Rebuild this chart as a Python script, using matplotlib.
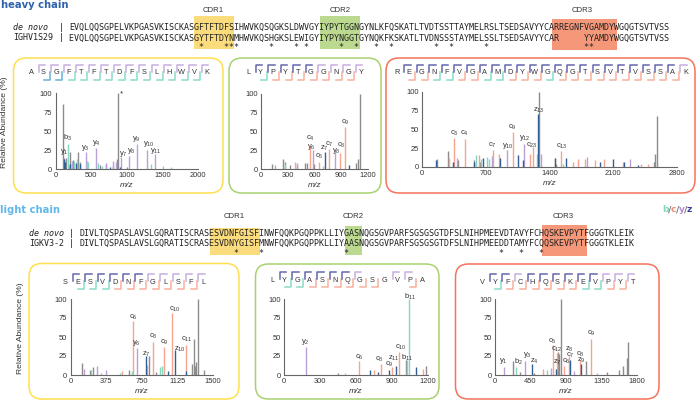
"""Antibody sequence alignment with annotated MS/MS spectra for each CDR."""
import matplotlib
matplotlib.use("Agg")
import matplotlib.pyplot as plt
from matplotlib.patches import FancyBboxPatch, Rectangle

plt.rcParams["font.family"] = ["Liberation Sans", "DejaVu Sans"]
plt.rcParams["mathtext.default"] = "regular"

W, H = 697, 401

# ---- sequences ----
HEAVY_NAMES = ["de novo", "IGHV1S29"]
HEAVY_DENOVO = "EVQLQQSGPELVKPGASVKISCKASGFTFTDFSIHWVKQSQGKSLDWVGYIYPYTGGNGYNLKFQSKATLTVDTSSTTAYMELRSLTSEDSAVYYCARREGNFVGAMDYWGQGTSVTVSS"
HEAVY_GERM = "EVQLQQSGPELVKPGASVKISCKASGYTFTDYNMHWVKQSHGKSLEWIGYIYPYNGGTGYNQKFKSKATLTVDNSSSTAYMELSSLTSEDSAVYYCAR     YYAMDYWGQGTSVTVSS"
LIGHT_NAMES = ["de novo", "IGKV3-2"]
LIGHT_DENOVO = "DIVLTQSPASLAVSLGQRATISCRASESVDNFGISFINWFQQKPGQPPKLLIYGASNQGSGVPARFSGSGSGTDFSLNIHPMEEVDTAVYFCHQSKEVPYTFGGGTKLEIK"
LIGHT_GERM = "DIVLTQSPASLAVSLGQRATISCRASESVDNYGISFMNWFQQKPGQPPKLLIYAASNQGSGVPARFSGSGSGTDFSLNIHPMEEDDTAMYFCQQSKEVPYTFGGGTKLEIK"

# ---- fragment maps: t = y light, d = y+z dark; b = b, c = c, s = blue, . = none ----
H1_RES = "ASGFTFTDFSLHWVK"
H1_TOP = ".tttttttttttttt"
H1_BOT = ".ssbbbbbbbbbbb."
H2_RES = "LYPYTGGNGY"
H2_TOP = ".dddddtttt"
H2_BOT = ".bccccccc."
H3_RES = "REGNFVGAMDYWGQGTSVTVSSAK"
H3_TOP = ".ddddddddddddddddddddddt"
H3_BOT = ".ccbbccbbcccbcccccccccc."
L1_RES = "SESVDNFGLSFL"
L1_TOP = ".ddddddttttt"
L1_BOT = ".bbbccccccc."
L2_RES = "LYGASNQGSGVPA"
L2_TOP = ".ddddddt..tt."
L2_BOT = ".bbcccccc..c."
L3_RES = "VYFCHQSKEVPYT"
L3_TOP = ".ddtddddddttt"
L3_BOT = ".bccccccbbcc."

# ---- spectra: m/z and relative intensity per ion type ----
H1_GRAY_MZ = [107, 150, 200, 240, 318, 340, 440, 620, 700, 800, 860, 873, 1000]
H1_GRAY_INT = [86, 14, 22, 12, 23, 9, 6, 5, 7, 4, 13, 100, 3]
H1_C_MZ = [180, 300]
H1_C_INT = [5, 4]
H1_Y_MZ = [120, 230, 420, 565, 700, 800, 850, 915, 1032, 1140, 1290, 1392]
H1_Y_INT = [15, 11, 22, 28, 8, 11, 9, 16, 17, 33, 25, 20]
H1_B_MZ = [178, 260, 300, 435, 460, 600, 650, 1340, 1515, 1620]
H1_B_INT = [33, 10, 13, 11, 9, 8, 4, 6, 4, 3]
H1_Z_MZ = [115, 130, 205, 290, 345, 760, 900]
H1_Z_INT = [13, 9, 7, 8, 6, 3, 3]

H2_GRAY_MZ = [120, 245, 270, 330, 400, 496, 520, 590, 1060, 1090, 1113]
H2_GRAY_INT = [7, 14, 10, 5, 5, 8, 8, 7, 8, 13, 100]
H2_C_MZ = [385, 553, 654, 767, 891, 944]
H2_C_INT = [9, 30, 10, 27, 22, 56]
H2_Y_MZ = [160, 400, 580, 827]
H2_Y_INT = [5, 8, 26, 23]
H2_B_MZ = [270, 700]
H2_B_INT = [7, 4]
H2_Z_MZ = [718, 985]
H2_Z_INT = [23, 6]

H3_GRAY_MZ = [165, 285, 400, 567, 640, 1285, 1470, 2545, 2562, 2580]
H3_GRAY_INT = [10, 21, 9, 9, 6, 100, 4, 7, 17, 68]
H3_C_MZ = [293, 355, 468, 622, 776, 849, 999, 1186, 1219, 1460, 1522, 1654, 1709, 1793, 1896, 1998, 2203, 2400, 2480]
H3_C_INT = [12, 39, 37, 16, 23, 17, 47, 17, 27, 12, 21, 7, 11, 10, 9, 10, 7, 4, 4]
H3_Y_MZ = [384, 769, 937, 1124, 1310, 1812, 2287]
H3_Y_INT = [12, 14, 22, 31, 17, 13, 10]
H3_B_MZ = [590, 650, 714, 740, 1262, 1550]
H3_B_INT = [16, 11, 13, 10, 17, 4]
H3_Z_MZ = [150, 340, 575, 670, 860, 1050, 1110, 1277, 1460, 1577, 1950, 2101, 2214, 2370]
H3_Z_INT = [9, 6, 7, 12, 12, 16, 9, 70, 12, 12, 6, 10, 7, 3]

L1_GRAY_MZ = [126, 200, 238, 616, 826, 900, 1281, 1295, 1310, 1323, 1340, 1410]
L1_GRAY_INT = [16, 6, 10, 7, 25, 4, 15, 47, 12, 17, 100, 6]
L1_C_MZ = [542, 658, 808, 871, 983, 1071, 1221]
L1_C_INT = [5, 71, 13, 44, 37, 81, 39]
L1_Y_MZ = [140, 283, 374, 696]
L1_Y_INT = [8, 12, 6, 35]
L1_B_MZ = [213, 320, 520, 650, 940, 962]
L1_B_INT = [6, 3, 3, 5, 10, 12]
L1_Z_MZ = [794, 1030, 1102, 1218]
L1_Z_INT = [25, 5, 33, 5]

L2_GRAY_MZ = [450, 1020, 1184]
L2_GRAY_INT = [2, 20, 12]
L2_C_MZ = [511, 622, 753, 811, 900, 956, 1159]
L2_C_INT = [3, 18, 7, 14, 10, 30, 8]
L2_Y_MZ = [186]
L2_Y_INT = [37]
L2_B_MZ = [1025, 1042]
L2_B_INT = [20, 100]
L2_Z_MZ = [714, 780, 878, 934, 1100]
L2_Z_INT = [6, 4, 7, 12, 10]

L3_GRAY_MZ = [232, 320, 500, 801, 813, 839, 1151, 1420, 1572, 1623, 1673, 1686]
L3_GRAY_INT = [18, 4, 3, 30, 28, 100, 18, 4, 7, 12, 23, 44]
L3_C_MZ = [603, 729, 788, 872, 940, 1083, 1214]
L3_C_INT = [8, 39, 29, 12, 25, 20, 48]
L3_Y_MZ = [114, 379, 708, 1000]
L3_Y_INT = [11, 19, 9, 5]
L3_B_MZ = [261, 653, 1290]
L3_B_INT = [11, 6, 2]
L3_Z_MZ = [464, 771, 948, 1096]
L3_Z_INT = [15, 8, 20, 15]

H1_XTICKS = [0, 500, 1000, 1500, 2000]
H2_XTICKS = [0, 300, 600, 900, 1200]
H3_XTICKS = [0, 700, 1400, 2100, 2800]
L1_XTICKS = [0, 375, 750, 1125, 1500]
L2_XTICKS = [0, 300, 600, 900, 1200]
L3_XTICKS = [0, 450, 900, 1350, 1800]
YTICKS = [0, 25, 50, 75, 100]

H1_LABELS = [("b", "3", 68, 138), ("y", "1", 64, 152), ("y", "3", 85, 148), ("y", "4", 96, 143),
             ("y", "7", 123, 154), ("y", "8", 131, 151), ("y", "9", 136, 139),
             ("y", "10", 149, 144), ("y", "11", 156, 151)]
H2_LABELS = [("c", "4", 310, 138), ("y", "6", 311, 147), ("c", "5", 319, 156), ("z", "7", 324, 148),
             ("c", "7", 329, 144), ("y", "8", 336, 151), ("c", "8", 341, 145), ("c", "9", 345, 122)]
H3_LABELS = [("c", "3", 454, 133), ("c", "4", 464, 133), ("c", "7", 492, 145), ("c", "9", 512, 127),
             ("y", "10", 508, 146), ("y", "12", 525, 138), ("c", "23", 532, 145),
             ("z", "13", 539, 110), ("c", "13", 562, 146)]
L1_LABELS = [("c", "6", 133, 317), ("y", "6", 136, 343), ("z", "7", 146, 354), ("c", "8", 153, 336),
             ("c", "9", 164, 342), ("c", "10", 175, 309), ("z", "10", 180, 349), ("c", "11", 187, 339)]
L2_LABELS = [("y", "2", 305, 342), ("c", "6", 359, 357), ("c", "8", 379, 359), ("c", "9", 389, 364),
             ("z", "11", 394, 358), ("c", "10", 401, 347), ("b", "11", 407, 358), ("b", "11", 410, 297)]
L3_LABELS = [("y", "1", 503, 361), ("b", "2", 518, 362), ("y", "3", 527, 355), ("z", "4", 534, 361),
             ("c", "5", 552, 341), ("c", "12", 557, 349), ("z", "7", 557, 362), ("c", "6", 566, 361),
             ("z", "8", 569, 349), ("c", "7", 570, 355), ("c", "8", 580, 354), ("z", "9", 581, 360),
             ("c", "9", 591, 333)]

COL_GRAY = "#8c8c8c"
COL_C = "#f7a48e"
COL_Y = "#bb9fd8"
COL_B = "#86d6c2"
COL_Z = "#2f5f96"
YELLOW = "#fbdc7c"
GREEN = "#bcd990"
RED = "#f5987a"
TEXT = "#333333"
BRACKET = {"t": "#c9afe0", "d": "#6368ae", "b": "#8adcc9", "c": "#f8b09c", "s": "#62b3d6"}

fig = plt.figure(figsize=(W / 100, H / 100), dpi=100)
bg = fig.add_axes([0, 0, 1, 1])
bg.set_xlim(0, W)
bg.set_ylim(H, 0)
bg.axis("off")


def band(x0, x1, y0, y1, color):
    bg.add_patch(Rectangle((x0, y0), x1 - x0, y1 - y0, color=color, lw=0, zorder=0))


def alignment(names, seq1, seq2, xname, xbar, xseq, y1, y2, ystar):
    mono = dict(family="DejaVu Sans Mono", fontsize=6.04, va="center", color="#222222")
    bg.text(xname, y1, names[0], style="italic", **mono)
    bg.text(xname, y2, names[1], **mono)
    bg.text(xbar, y1, "|", ha="center", **mono)
    bg.text(xbar, y2, "|", ha="center", **mono)
    bg.text(xseq, y1, seq1, **mono)
    bg.text(xseq, y2, seq2, **mono)
    stars = "".join("*" if a != b and b != " " else " " for a, b in zip(seq1, seq2))
    bg.text(xseq, ystar, stars, **mono)


def frame(x0, x1, y0, y1, color):
    bg.add_patch(FancyBboxPatch((x0, y0), x1 - x0, y1 - y0, boxstyle="round,pad=0,rounding_size=13",
                                fc="white", ec=color, lw=1.1, zorder=1))


def fragment_map(res, top, bot, x0, y):
    step = 12.55
    for i, r in enumerate(res):
        cx = x0 + i * step
        bg.text(cx, y, r, fontsize=5.3, ha="center", va="center", color="#333333", zorder=3)
        if top[i] != ".":
            bg.plot([cx - 5, cx - 5, cx + 1.5], [y - 1, y - 8, y - 8], color=BRACKET[top[i]], lw=1.1, zorder=2)
        if bot[i] != ".":
            bg.plot([cx, cx + 6, cx + 6], [y + 7, y + 7, y - 1], color=BRACKET[bot[i]], lw=1.1, zorder=2)


def spectrum(x0, x1, ytop, ybot, xmax, xticks, peaks):
    ax = fig.add_axes([x0 / W, 1 - ybot / H, (x1 - x0) / W, (ybot - ytop) / H])
    ax.patch.set_alpha(0)
    for mz, intensity, color in peaks:
        ax.vlines(mz, 0, intensity, color=color, lw=1.0)
    ax.set_xlim(0, xmax)
    ax.set_ylim(0, 100)
    ax.set_xticks(xticks)
    ax.set_yticks(YTICKS)
    ax.tick_params(length=0, labelsize=5.4, pad=2.5, labelcolor=TEXT)
    ax.spines[["top", "right"]].set_visible(False)
    ax.spines[["left", "bottom"]].set_color("#666666")
    ax.spines[["left", "bottom"]].set_linewidth(0.8)
    ax.set_xlabel("m/z", style="italic", fontsize=6, labelpad=1.5, color=TEXT)
    return ax


def ion_labels(labels):
    for ion, n, x, y in labels:
        bg_top.text(x, y, f"{ion}$_{{{n}}}$", fontsize=5.5, ha="center", va="center", color=TEXT)


# ---- highlighted CDR bands ----
band(194.3, 234.3, 16, 49, YELLOW)
band(320, 360, 16, 49, GREEN)
band(551.7, 617.3, 19, 50, RED)
band(210, 260, 228, 255, YELLOW)
band(345, 362, 226, 255, GREEN)
band(541.7, 587, 225, 256, RED)

# ---- headers ----
bg.text(1, 5, "heavy chain", fontsize=7.2, fontweight="bold", family="DejaVu Sans", color="#2f62ad", va="center")
bg.text(0, 210, "light chain", fontsize=7.2, fontweight="bold", family="DejaVu Sans", color="#62b8ea", va="center")
for txt, x, y in [("CDR1", 213, 11), ("CDR2", 340, 11), ("CDR3", 582, 11),
                  ("CDR1", 234, 217), ("CDR2", 353, 217), ("CDR3", 563, 217)]:
    bg.text(x, y, txt, fontsize=5.6, ha="center", va="center", color=TEXT)

alignment(HEAVY_NAMES, HEAVY_DENOVO, HEAVY_GERM, 13, 61, 69, 27, 38, 48)
alignment(LIGHT_NAMES, LIGHT_DENOVO, LIGHT_GERM, 29, 71, 79.3, 233, 243, 253.5)

# legend text b/c/y/z
xpos = 662.5
for s, c, dx in [("b", "#86d6c2", 5.8), ("/", "#777777", 2.6), ("c", "#f08a70", 5.2), ("/", "#777777", 2.6),
                 ("y", "#b48ed8", 5.4), ("/", "#777777", 2.6), ("z", "#3a3fa0", 5)]:
    bg.text(xpos, 210, s, color=c, fontsize=6.6, fontweight="bold", family="DejaVu Sans", va="center")
    xpos += dx

# ---- panels ----
frame(13.5, 223, 58, 193, "#ffdf4d")
frame(229, 381, 58, 193, "#a8d26e")
frame(386, 695, 58, 193, "#f4735a")
frame(29, 239, 263.5, 399, "#ffdf4d")
frame(255.5, 439, 264, 399, "#a8d26e")
frame(455.5, 659, 264, 399, "#f4735a")

fragment_map(H1_RES, H1_TOP, H1_BOT, 31, 73)
fragment_map(H2_RES, H2_TOP, H2_BOT, 248, 73)
fragment_map(H3_RES, H3_TOP, H3_BOT, 396.7, 73)
fragment_map(L1_RES, L1_TOP, L1_BOT, 65, 282)
fragment_map(L2_RES, L2_TOP, L2_BOT, 272, 280)
fragment_map(L3_RES, L3_TOP, L3_BOT, 482.3, 282)

spectrum(55.7, 198, 93, 169, 2000, H1_XTICKS, [
    (H1_GRAY_MZ, H1_GRAY_INT, COL_GRAY), (H1_C_MZ, H1_C_INT, COL_C), (H1_Y_MZ, H1_Y_INT, COL_Y),
    (H1_B_MZ, H1_B_INT, COL_B), (H1_Z_MZ, H1_Z_INT, COL_Z)])
spectrum(261, 368, 94, 169, 1200, H2_XTICKS, [
    (H2_GRAY_MZ, H2_GRAY_INT, COL_GRAY), (H2_C_MZ, H2_C_INT, COL_C), (H2_Y_MZ, H2_Y_INT, COL_Y),
    (H2_B_MZ, H2_B_INT, COL_B), (H2_Z_MZ, H2_Z_INT, COL_Z)])
spectrum(422, 677, 92, 167, 2800, H3_XTICKS, [
    (H3_GRAY_MZ, H3_GRAY_INT, COL_GRAY), (H3_C_MZ, H3_C_INT, COL_C), (H3_Y_MZ, H3_Y_INT, COL_Y),
    (H3_B_MZ, H3_B_INT, COL_B), (H3_Z_MZ, H3_Z_INT, COL_Z)])
spectrum(70.5, 213, 299, 375, 1500, L1_XTICKS, [
    (L1_GRAY_MZ, L1_GRAY_INT, COL_GRAY), (L1_C_MZ, L1_C_INT, COL_C), (L1_Y_MZ, L1_Y_INT, COL_Y),
    (L1_B_MZ, L1_B_INT, COL_B), (L1_Z_MZ, L1_Z_INT, COL_Z)])
spectrum(284, 428, 299, 375, 1200, L2_XTICKS, [
    (L2_GRAY_MZ, L2_GRAY_INT, COL_GRAY), (L2_C_MZ, L2_C_INT, COL_C), (L2_Y_MZ, L2_Y_INT, COL_Y),
    (L2_B_MZ, L2_B_INT, COL_B), (L2_Z_MZ, L2_Z_INT, COL_Z)])
spectrum(495, 637, 299, 375, 1800, L3_XTICKS, [
    (L3_GRAY_MZ, L3_GRAY_INT, COL_GRAY), (L3_C_MZ, L3_C_INT, COL_C), (L3_Y_MZ, L3_Y_INT, COL_Y),
    (L3_B_MZ, L3_B_INT, COL_B), (L3_Z_MZ, L3_Z_INT, COL_Z)])

# overlay for ion labels so they sit on top of the spectra
bg_top = fig.add_axes([0, 0, 1, 1])
bg_top.set_xlim(0, W)
bg_top.set_ylim(H, 0)
bg_top.axis("off")
for labels in [H1_LABELS, H2_LABELS, H3_LABELS, L1_LABELS, L2_LABELS, L3_LABELS]:
    ion_labels(labels)
bg_top.text(121, 94, "*", fontsize=6, ha="center", va="center", color=TEXT)
bg_top.text(5, 122, "Relative Abundance (%)", rotation=90, fontsize=6.1, ha="center", va="center", color=TEXT)
bg_top.text(21, 328, "Relative Abundance (%)", rotation=90, fontsize=6.1, ha="center", va="center", color=TEXT)

fig.savefig("out.png", dpi=100)
